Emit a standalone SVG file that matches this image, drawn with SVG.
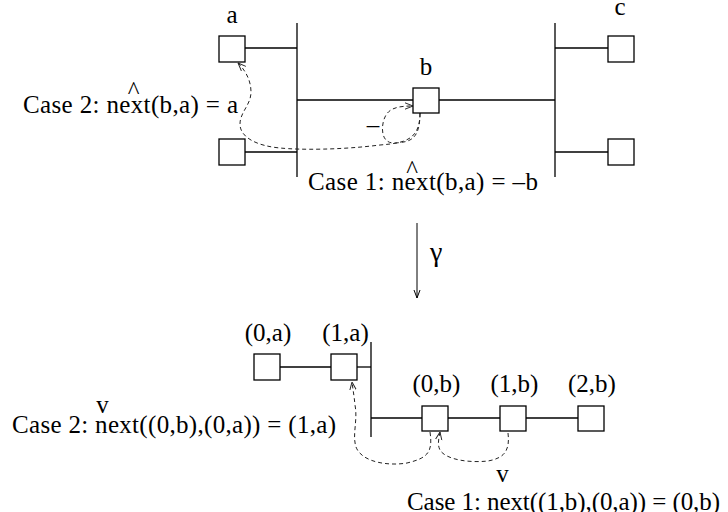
<svg xmlns="http://www.w3.org/2000/svg" width="728" height="512" viewBox="0 0 728 512">
<style>
.box{fill:#fff;stroke:#000;stroke-width:1.3}
.ln{fill:none;stroke:#000;stroke-width:1.3}
.dash{fill:none;stroke:#222;stroke-width:1;stroke-dasharray:4 3}
text{font-family:"Liberation Serif","Times New Roman",serif;font-size:25px;fill:#000}
.mid{text-anchor:middle}
</style>
<defs>
<marker id="ah" viewBox="0 0 10 10" refX="10" refY="5" markerWidth="8" markerHeight="8" markerUnits="userSpaceOnUse" orient="auto">
<path d="M0,1 L10,5 L0,9" fill="none" stroke="#222" stroke-width="1.2"/>
</marker>
</defs>
<rect width="728" height="512" fill="#fff"/>

<g id="connectors">
<!-- top network -->
<line class="ln" x1="297" y1="23" x2="297" y2="177"/>
<line class="ln" x1="555" y1="23" x2="555" y2="177"/>
<line class="ln" x1="245" y1="48" x2="297" y2="48"/>
<line class="ln" x1="245" y1="152" x2="297" y2="152"/>
<line class="ln" x1="297" y1="100" x2="413" y2="100"/>
<line class="ln" x1="439" y1="100" x2="555" y2="100"/>
<line class="ln" x1="555" y1="48" x2="608" y2="48"/>
<line class="ln" x1="555" y1="152" x2="608" y2="152"/>
<!-- top dashed -->
<path class="dash" marker-end="url(#ah)" d="M420,113 C420,140 405,143 380,145 C340,150 300,150 280,148 C258,146 240,138 240,124 C240,112 251,105 251,92 C251,80 245,70 238,63"/>
<path class="dash" marker-end="url(#ah)" d="M420,113 C420,140 410,142 395,143 C380,144 381,125 385,117 C389,108 398,106 413,106"/>
<!-- gamma arrow -->
<line x1="417" y1="223" x2="417" y2="298" stroke="#000" stroke-width="1"/>
<path d="M414,290 L417,298 L420,290" fill="none" stroke="#000" stroke-width="1"/>
<!-- bottom network -->
<line class="ln" x1="280" y1="367" x2="331" y2="367"/>
<line class="ln" x1="357" y1="367" x2="371" y2="367"/>
<line class="ln" x1="371" y1="342" x2="371" y2="437"/>
<line class="ln" x1="371" y1="418" x2="422" y2="418"/>
<line class="ln" x1="448" y1="418" x2="500" y2="418"/>
<line class="ln" x1="526" y1="418" x2="578" y2="418"/>
<!-- bottom dashed -->
<path class="dash" marker-end="url(#ah)" d="M430,432 C433,452 428,458 407,463 C390,466 362,463 356,447 C352,435 358,420 355,405 C354,395 353,390 352,382"/>
<path class="dash" marker-end="url(#ah)" d="M508,433 C510,450 505,458 488,461 C470,463 446,460 440,450 C437,444 439,438 440,432"/>
</g>

<g id="node-a"><rect class="box" x="219" y="36" width="26" height="26"/><text class="mid" x="232" y="23">a</text></g>
<g id="node-a2"><rect class="box" x="219" y="139" width="26" height="26"/></g>
<g id="node-b"><rect class="box" x="413" y="88" width="26" height="25"/><text class="mid" x="426" y="75">b</text></g>
<g id="node-c"><rect class="box" x="608" y="36" width="26" height="26"/><text class="mid" x="620" y="15">c</text></g>
<g id="node-c2"><rect class="box" x="608" y="139" width="26" height="26"/></g>

<g id="node-0a"><rect class="box" x="254" y="354" width="26" height="26"/><text class="mid" x="268" y="341">(0,a)</text></g>
<g id="node-1a"><rect class="box" x="331" y="354" width="26" height="26"/><text class="mid" x="345.5" y="341">(1,a)</text></g>
<g id="node-0b"><rect class="box" x="422" y="406" width="26" height="25"/><text class="mid" x="436.5" y="392">(0,b)</text></g>
<g id="node-1b"><rect class="box" x="500" y="406" width="26" height="25"/><text class="mid" x="514.5" y="392">(1,b)</text></g>
<g id="node-2b"><rect class="box" x="578" y="406" width="26" height="25"/><text class="mid" x="592" y="392">(2,b)</text></g>

<g id="labels">
<text x="23" y="113" textLength="215" lengthAdjust="spacing">Case 2: next(b,a) = a</text>
<text class="mid" x="133.5" y="99">^</text>
<text x="308" y="190" textLength="230" lengthAdjust="spacing">Case 1: next(b,a) = –b</text>
<text class="mid" x="412" y="178">^</text>
<text class="mid" x="373" y="133">–</text>
<text x="430" y="261" font-size="28" style="font-size:28px">γ</text>
<text x="12" y="433" textLength="324" lengthAdjust="spacing">Case 2: next((0,b),(0,a)) = (1,a)</text>
<text class="mid" x="102.5" y="413">v</text>
<text x="407" y="510" textLength="313" lengthAdjust="spacing">Case 1: next((1,b),(0,a)) = (0,b)</text>
<text class="mid" x="502.5" y="482">v</text>
</g>
</svg>
